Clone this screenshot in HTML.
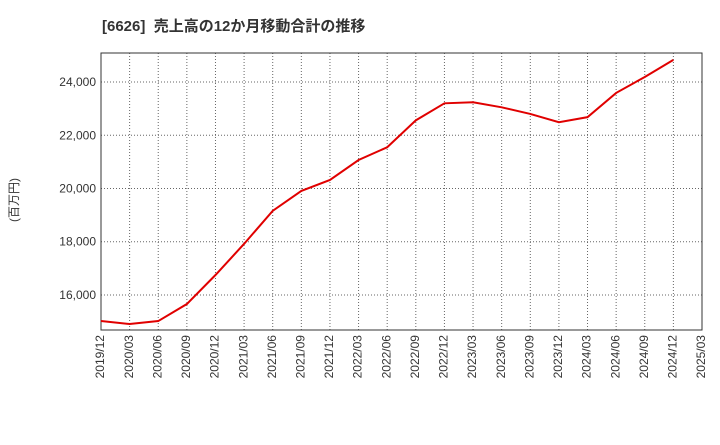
<!DOCTYPE html>
<html><head><meta charset="utf-8"><style>
body{margin:0;background:#fff;font-family:"Liberation Sans","Noto Sans CJK JP",sans-serif;}
</style></head><body>
<svg id="chart" width="720" height="440" xmlns="http://www.w3.org/2000/svg">
<text x="102" y="31" font-size="15" font-weight="bold" fill="#333" font-family="Liberation Sans, Noto Sans CJK JP, sans-serif">[6626]&#160;&#160;売上高の12か月移動合計の推移</text>
<text transform="translate(18,200) rotate(-90)" text-anchor="middle" font-size="12" fill="#333" font-family="Liberation Sans, Noto Sans CJK JP, sans-serif">(百万円)</text>
<g id="grid"></g><g id="axes"></g><g id="series"></g>
</svg>
<script>
const categories=["2019/12","2020/03","2020/06","2020/09","2020/12","2021/03","2021/06","2021/09","2021/12","2022/03","2022/06","2022/09","2022/12","2023/03","2023/06","2023/09","2023/12","2024/03","2024/06","2024/09","2024/12","2025/03"];
const sales=[15020,14910,15020,15660,16750,17920,19160,19910,20320,21070,21550,22560,23200,23240,23050,22800,22490,22680,23590,24190,24830];
const yTicks=[16000,18000,20000,22000,24000];
const yTickLabels=["16,000","18,000","20,000","22,000","24,000"];
const L=101,R=702,T=53,B=330,yMin=14684,yMax=25090;
const ns="http://www.w3.org/2000/svg";
const xs=i=>L+(R-L)*i/(categories.length-1);
const ys=v=>B-(v-yMin)/(yMax-yMin)*(B-T);
function mk(tag,attrs,parent){const e=document.createElementNS(ns,tag);for(const k in attrs)e.setAttribute(k,attrs[k]);document.getElementById(parent).appendChild(e);return e;}
categories.forEach((c,i)=>{
 const g=mk("line",{x1:xs(i),x2:xs(i),y1:T,y2:B,stroke:"#666","stroke-dasharray":"1,2","stroke-width":1},"grid");
 
 
 const x=xs(i),y=B+5;
 const t=mk("text",{x:x,y:y,transform:`rotate(-90 ${x} ${y})`,"text-anchor":"end","dominant-baseline":"middle","font-size":"12",fill:"#333"},"axes");
 t.textContent=c;
 
 
});
yTicks.forEach((v,i)=>{
 const g=mk("line",{x1:L,x2:R,y1:ys(v),y2:ys(v),stroke:"#666","stroke-dasharray":"1,2","stroke-width":1},"grid");
 
 
 const t=mk("text",{x:L-5,y:ys(v)+4,"text-anchor":"end","font-size":"12",fill:"#333"},"axes");
 t.textContent=yTickLabels[i];
 
 
});
const frame=mk("rect",{x:L,y:T,width:R-L,height:B-T,fill:"none",stroke:"#333","stroke-width":1},"axes");


const line=mk("polyline",{points:sales.map((v,i)=>xs(i)+","+ys(v)).join(" "),fill:"none",stroke:"#e00000","stroke-width":2},"series");


</script>
</body></html>
